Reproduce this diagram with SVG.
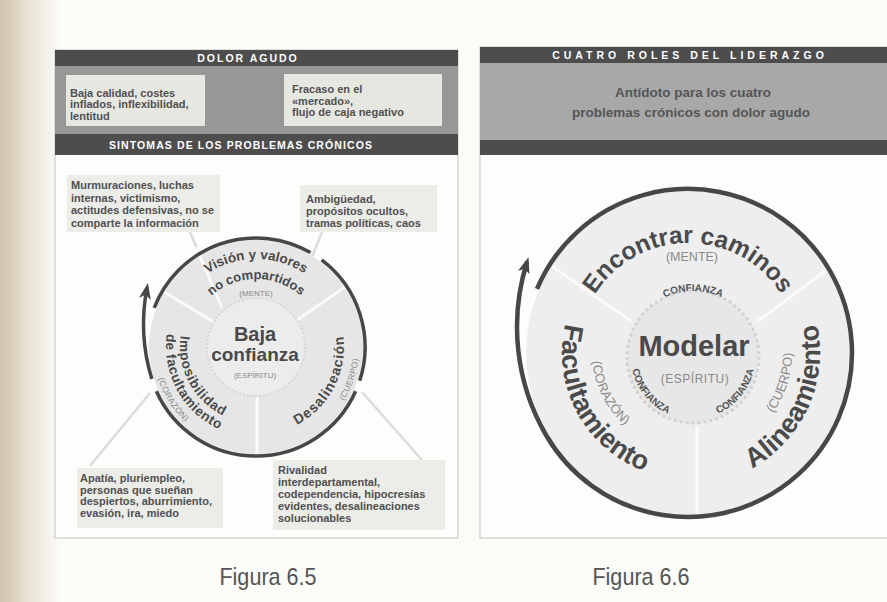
<svg xmlns="http://www.w3.org/2000/svg" width="887" height="602" viewBox="0 0 887 602">
  <defs>
    <linearGradient id="spine" x1="0" y1="0" x2="1" y2="0">
      <stop offset="0" stop-color="#d2c3ab"/>
      <stop offset="0.45" stop-color="#e9e1d3"/>
      <stop offset="1" stop-color="#fbfbf8"/>
    </linearGradient>
    <marker id="head" viewBox="0 0 16 12" refX="11" refY="6" markerWidth="16" markerHeight="12" markerUnits="userSpaceOnUse" orient="auto">
      <path d="M0,0 L16,6 L0,12 L4,6 z" fill="#454545"/>
    </marker>
    <!-- text paths, figure 6.5 (centre 256,347) -->
    <path id="a65top1" d="M168,347 A88,88 0 0 1 344,347"/>
    <path id="a65top2" d="M188,347 A68,68 0 0 1 324,347"/>
    <path id="a65r76" d="M256,271 A76,76 0 1 0 256,423 A76,76 0 1 0 256,271"/>
    <path id="a65r90" d="M256,257 A90,90 0 1 0 256,437 A90,90 0 1 0 256,257"/>
    <path id="a65r88" d="M256,259 A88,88 0 1 0 256,435 A88,88 0 1 0 256,259"/>
    <path id="a65r103" d="M256,244 A103,103 0 1 0 256,450 A103,103 0 1 0 256,244"/>
    <!-- text paths, figure 6.6 (centre 688,353; inner centre 693,357) -->
    <path id="a66top" d="M578,353 A110,110 0 0 1 798,353"/>
    <path id="a66r126" d="M688,227 A126,126 0 1 0 688,479 A126,126 0 1 0 688,227"/>
    <path id="a66r132" d="M688,221 A132,132 0 1 0 688,485 A132,132 0 1 0 688,221"/>
    <path id="a66r96" d="M688,257 A96,96 0 1 0 688,449 A96,96 0 1 0 688,257"/>
    <path id="a66r104" d="M688,249 A104,104 0 1 0 688,457 A104,104 0 1 0 688,249"/>
    <path id="a66in66" d="M627,357 A66,66 0 0 1 759,357"/>
    <path id="a66in62" d="M693,295 A62,62 0 1 0 693,419 A62,62 0 1 0 693,295"/>
  </defs>
  <style>
    .band { fill: #4d4d4d; }
    .title { font-family: "Liberation Sans", Arial, sans-serif; font-weight: bold; font-size: 10.5px; fill: #ffffff; text-anchor: middle; }
    .box { fill: #e7e7e2; }
    .wbox { fill: #ecece8; }
    .bt { font-family: "Liberation Sans", Arial, sans-serif; font-weight: bold; font-size: 11px; fill: #505050; }
    .lead { font-family: "Liberation Sans", Arial, sans-serif; font-weight: bold; font-size: 13.5px; fill: #555555; text-anchor: middle; }
    .ring { fill: none; stroke: #474747; stroke-width: 3.5; stroke-linecap: butt; }
    .ring66 { fill: none; stroke: #474747; stroke-width: 4.5; }
    .spoke { stroke: #dcdcdc; stroke-width: 2.5; }
    .divider { stroke: #fafafa; stroke-width: 3; }
    .arc { font-family: "Liberation Sans", Arial, sans-serif; font-weight: bold; fill: #4a4a4a; }
    .conf { font-family: "Liberation Sans", Arial, sans-serif; font-weight: bold; font-size: 10px; fill: #555555; }
    .tag { font-family: "Liberation Sans", Arial, sans-serif; fill: #8a8a8a; }
    .cap { font-family: "Liberation Sans", Arial, sans-serif; font-size: 24px; fill: #555555; text-anchor: middle; }
  </style>

  <!-- page -->
  <rect x="0" y="0" width="887" height="602" fill="#fbfbf8"/>
  <rect x="0" y="0" width="60" height="602" fill="url(#spine)"/>

  <!-- ===== Figure 6.5 ===== -->
  <g id="panel-65">
    <rect x="55" y="50" width="403" height="488" fill="#fdfdfb" stroke="#c4c4c4" stroke-width="1"/>
    <rect x="55" y="66" width="403" height="68" fill="#979797"/>
    <rect class="band" x="55" y="50" width="403" height="16"/>
    <rect class="band" x="55" y="134" width="403" height="21"/>
    <text class="title" x="248" y="62" letter-spacing="2">DOLOR AGUDO</text>
    <text class="title" x="241" y="149" letter-spacing="1.1">SINTOMAS DE LOS PROBLEMAS CRÓNICOS</text>
  </g>

  <g id="pain-quality">
    <rect class="box" x="66" y="75" width="139" height="51"/>
    <text class="bt" x="70" y="96.5">Baja calidad, costes</text>
    <text class="bt" x="70" y="108">inflados, inflexibilidad,</text>
    <text class="bt" x="70" y="119.5">lentitud</text>
  </g>
  <g id="pain-market">
    <rect class="box" x="284" y="74" width="158" height="52"/>
    <text class="bt" x="292" y="93">Fracaso en el</text>
    <text class="bt" x="292" y="104.5">«mercado»,</text>
    <text class="bt" x="292" y="116">flujo de caja negativo</text>
  </g>

  <!-- connectors: pale spokes from the symptom boxes to the circle -->
  <g id="connectors-65">
    <line class="spoke" x1="190" y1="232" x2="222" y2="308"/>
    <line class="spoke" x1="322" y1="232" x2="306" y2="272"/>
    <line class="spoke" x1="150" y1="393" x2="90" y2="466"/>
    <line class="spoke" x1="362" y1="392" x2="422" y2="460"/>
  </g>

  <g id="symptom-trust">
    <rect class="wbox" x="67" y="175" width="153" height="57"/>
    <text class="bt" x="71" y="189">Murmuraciones, luchas</text>
    <text class="bt" x="71" y="201.5">internas, victimismo,</text>
    <text class="bt" x="71" y="214">actitudes defensivas, no se</text>
    <text class="bt" x="71" y="226.5">comparte la información</text>
  </g>
  <g id="symptom-vision">
    <rect class="wbox" x="300" y="185" width="137" height="47"/>
    <text class="bt" x="306" y="203">Ambigüedad,</text>
    <text class="bt" x="306" y="215">propósitos ocultos,</text>
    <text class="bt" x="306" y="227">tramas políticas, caos</text>
  </g>
  <g id="symptom-empower">
    <rect class="wbox" x="77" y="468" width="146" height="60"/>
    <text class="bt" x="80" y="482">Apatía, pluriempleo,</text>
    <text class="bt" x="80" y="493.5">personas que sueñan</text>
    <text class="bt" x="80" y="505">despiertos, aburrimiento,</text>
    <text class="bt" x="80" y="516.5">evasión, ira, miedo</text>
  </g>
  <g id="symptom-align">
    <rect class="wbox" x="273" y="460" width="172" height="70"/>
    <text class="bt" x="278" y="474">Rivalidad</text>
    <text class="bt" x="278" y="486">interdepartamental,</text>
    <text class="bt" x="278" y="498">codependencia, hipocresías</text>
    <text class="bt" x="278" y="510">evidentes, desalineaciones</text>
    <text class="bt" x="278" y="521.5">solucionables</text>
  </g>

  <g id="circle-65">
    <circle cx="256" cy="347" r="107" fill="#e6e6e6"/>
    <line class="divider" x1="214" y1="322" x2="164" y2="292"/>
    <line class="divider" x1="297" y1="320" x2="345" y2="287"/>
    <line class="divider" x1="257" y1="397" x2="257" y2="454"/>
    <line class="divider" x1="222" y1="308" x2="196" y2="247"/>
    <circle cx="256" cy="347" r="49" fill="#ececec" stroke="#d6d6d6" stroke-width="2" stroke-dasharray="2 2"/>
    <!-- ring segments, clockwise, ending in the arrow -->
    <path class="ring" d="M154.2,307.9 A109,109 0 0 1 310.5,252.6"/>
    <path class="ring" d="M321.6,259.9 A109,109 0 0 1 359.7,380.7"/>
    <path class="ring" d="M355.6,391.3 A109,109 0 0 1 156.4,391.3"/>
    <path class="ring" d="M151.8,378.9 A188,188 0 0 1 147,288" marker-end="url(#head)"/>
  </g>

  <g id="core-65">
    <text class="arc" x="255" y="341" font-size="20" text-anchor="middle">Baja</text>
    <text class="arc" x="255" y="361" font-size="19" text-anchor="middle">confianza</text>
    <text class="tag" x="255" y="378" font-size="8" text-anchor="middle">(ESPÍRITU)</text>
  </g>
  <g id="role-vision-65">
    <text class="arc" font-size="13.5"><textPath href="#a65top1" startOffset="50%" text-anchor="middle">Visión y valores</textPath></text>
    <text class="arc" font-size="13"><textPath href="#a65top2" startOffset="50%" text-anchor="middle">no compartidos</textPath></text>
    <text class="tag" x="256" y="296" font-size="8" text-anchor="middle">(MENTE)</text>
  </g>
  <g id="role-empower-65">
    <text class="arc" font-size="13.5" letter-spacing="0.8"><textPath href="#a65r76" startOffset="32.8%" text-anchor="middle">Imposibilidad</textPath></text>
    <text class="arc" font-size="13.5" letter-spacing="0.6"><textPath href="#a65r90" startOffset="33%" text-anchor="middle">de facultamiento</textPath></text>
    <text class="tag" font-size="8.5" letter-spacing="0.4"><textPath href="#a65r103" startOffset="34%" text-anchor="middle">(CORAZÓN)</textPath></text>
  </g>
  <g id="role-align-65">
    <text class="arc" font-size="14" letter-spacing="1"><textPath href="#a65r88" startOffset="67.4%" text-anchor="middle">Desalineación</textPath></text>
    <text class="tag" font-size="8.5" letter-spacing="0.4"><textPath href="#a65r103" startOffset="69.7%" text-anchor="middle">(CUERPO)</textPath></text>
  </g>

  <!-- ===== Figure 6.6 ===== -->
  <g id="panel-66">
    <rect x="480" y="47" width="420" height="491" fill="#fdfdfb" stroke="#c4c4c4" stroke-width="1"/>
    <rect x="480" y="63" width="420" height="77" fill="#a8a8a8"/>
    <rect class="band" x="480" y="47" width="420" height="16"/>
    <rect class="band" x="480" y="140" width="420" height="15"/>
    <text class="title" x="690" y="59" letter-spacing="4">CUATRO ROLES DEL LIDERAZGO</text>
    <text class="lead" x="693" y="97">Antídoto para los cuatro</text>
    <text class="lead" x="691" y="117">problemas crónicos con dolor agudo</text>
  </g>

  <g id="circle-66">
    <circle cx="688" cy="353" r="162" fill="#eeeeee"/>
    <line class="divider" x1="631" y1="321" x2="550" y2="265" stroke-width="4"/>
    <line class="divider" x1="758" y1="321" x2="829" y2="268" stroke-width="4"/>
    <line class="divider" x1="697" y1="425" x2="697" y2="514" stroke-width="4"/>
    <circle cx="693" cy="357" r="66" fill="#e7e7e7" stroke="#d2d2d2" stroke-width="3" stroke-dasharray="3 3"/>
    <path class="ring66" d="M537,288.9 A164,164 0 1 1 546,435 A216,216 0 0 1 527,262" marker-end="url(#head)"/>
  </g>

  <g id="core-66">
    <text class="arc" x="694" y="356" font-size="29" text-anchor="middle">Modelar</text>
    <text class="tag" x="695" y="383" font-size="12" text-anchor="middle" letter-spacing="0.5">(ESPÍRITU)</text>
    <text class="conf"><textPath href="#a66in66" startOffset="50%" text-anchor="middle">CONFIANZA</textPath></text>
    <text class="conf"><textPath href="#a66in62" startOffset="35.8%" text-anchor="middle">CONFIANZA</textPath></text>
    <text class="conf"><textPath href="#a66in62" startOffset="64.2%" text-anchor="middle">CONFIANZA</textPath></text>
  </g>
  <g id="role-pathfinding">
    <text class="arc" font-size="24.5"><textPath href="#a66top" startOffset="50%" text-anchor="middle">Encontrar caminos</textPath></text>
    <text class="tag" x="692" y="261" font-size="12.5" text-anchor="middle">(MENTE)</text>
  </g>
  <g id="role-empowering">
    <text class="arc" font-size="27"><textPath href="#a66r126" startOffset="32.8%" text-anchor="middle">Facultamiento</textPath></text>
    <text class="tag" font-size="13"><textPath href="#a66r96" startOffset="32.5%" text-anchor="middle">(CORAZÓN)</textPath></text>
  </g>
  <g id="role-aligning">
    <text class="arc" font-size="27"><textPath href="#a66r132" startOffset="68.3%" text-anchor="middle">Alineamiento</textPath></text>
    <text class="tag" font-size="13"><textPath href="#a66r104" startOffset="70.1%" text-anchor="middle">(CUERPO)</textPath></text>
  </g>

  <!-- captions -->
  <text class="cap" transform="translate(268,585) scale(0.9,1)">Figura 6.5</text>
  <text class="cap" transform="translate(641,585) scale(0.9,1)">Figura 6.6</text>
</svg>
